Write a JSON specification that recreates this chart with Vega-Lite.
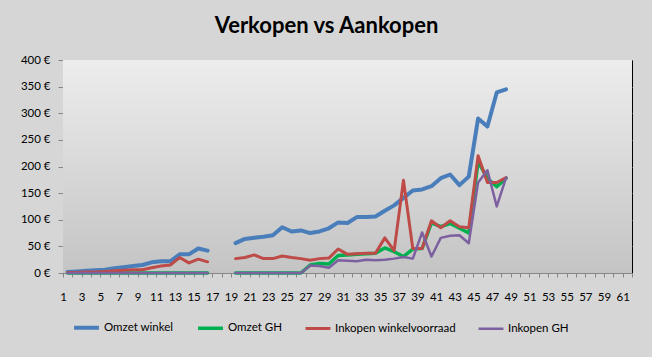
{
  "$schema": "https://vega.github.io/schema/vega-lite/v6.json",
  "width": 569,
  "height": 213,
  "autosize": {"type": "none"},
  "padding": {"left": 63, "top": 60, "right": 20, "bottom": 84},
  "background": "#d6d6d6",
  "title": {"text": "Verkopen vs Aankopen", "font": "Lato", "fontSize": 22, "fontWeight": "bold", "color": "#000000", "anchor": "middle", "dx": -21, "offset": -1, "baseline": "alphabetic"},
  "config": {"view": {"stroke": "#000000", "strokeWidth": 1}, "font": "Lato"},
  "layer": [
    {
      "data": {"values": [{}]},
      "mark": {"type": "rect", "fill": {"gradient": "linear", "x1": 0, "y1": 0, "x2": 0, "y2": 1, "stops": [{"offset": 0, "color": "#ededed"}, {"offset": 1, "color": "#c4c4c4"}]}}
    },
    {
      "data": {"values": [
        {"dag":1,"reeks":"Omzet winkel","bedrag":2},{"dag":1,"reeks":"Omzet GH","bedrag":0},{"dag":1,"reeks":"Inkopen winkelvoorraad","bedrag":1},{"dag":1,"reeks":"Inkopen GH","bedrag":0},
        {"dag":2,"reeks":"Omzet winkel","bedrag":3},{"dag":2,"reeks":"Omzet GH","bedrag":0},{"dag":2,"reeks":"Inkopen winkelvoorraad","bedrag":1},{"dag":2,"reeks":"Inkopen GH","bedrag":0},
        {"dag":3,"reeks":"Omzet winkel","bedrag":4},{"dag":3,"reeks":"Omzet GH","bedrag":0},{"dag":3,"reeks":"Inkopen winkelvoorraad","bedrag":2},{"dag":3,"reeks":"Inkopen GH","bedrag":0},
        {"dag":4,"reeks":"Omzet winkel","bedrag":5},{"dag":4,"reeks":"Omzet GH","bedrag":0},{"dag":4,"reeks":"Inkopen winkelvoorraad","bedrag":2},{"dag":4,"reeks":"Inkopen GH","bedrag":0},
        {"dag":5,"reeks":"Omzet winkel","bedrag":6},{"dag":5,"reeks":"Omzet GH","bedrag":0},{"dag":5,"reeks":"Inkopen winkelvoorraad","bedrag":3},{"dag":5,"reeks":"Inkopen GH","bedrag":0},
        {"dag":6,"reeks":"Omzet winkel","bedrag":9},{"dag":6,"reeks":"Omzet GH","bedrag":0},{"dag":6,"reeks":"Inkopen winkelvoorraad","bedrag":4},{"dag":6,"reeks":"Inkopen GH","bedrag":0},
        {"dag":7,"reeks":"Omzet winkel","bedrag":11},{"dag":7,"reeks":"Omzet GH","bedrag":0},{"dag":7,"reeks":"Inkopen winkelvoorraad","bedrag":5},{"dag":7,"reeks":"Inkopen GH","bedrag":0},
        {"dag":8,"reeks":"Omzet winkel","bedrag":13},{"dag":8,"reeks":"Omzet GH","bedrag":0},{"dag":8,"reeks":"Inkopen winkelvoorraad","bedrag":6},{"dag":8,"reeks":"Inkopen GH","bedrag":0},
        {"dag":9,"reeks":"Omzet winkel","bedrag":15},{"dag":9,"reeks":"Omzet GH","bedrag":0},{"dag":9,"reeks":"Inkopen winkelvoorraad","bedrag":6},{"dag":9,"reeks":"Inkopen GH","bedrag":0},
        {"dag":10,"reeks":"Omzet winkel","bedrag":20},{"dag":10,"reeks":"Omzet GH","bedrag":0},{"dag":10,"reeks":"Inkopen winkelvoorraad","bedrag":10},{"dag":10,"reeks":"Inkopen GH","bedrag":0},
        {"dag":11,"reeks":"Omzet winkel","bedrag":22},{"dag":11,"reeks":"Omzet GH","bedrag":0},{"dag":11,"reeks":"Inkopen winkelvoorraad","bedrag":13},{"dag":11,"reeks":"Inkopen GH","bedrag":0},
        {"dag":12,"reeks":"Omzet winkel","bedrag":22},{"dag":12,"reeks":"Omzet GH","bedrag":0},{"dag":12,"reeks":"Inkopen winkelvoorraad","bedrag":15},{"dag":12,"reeks":"Inkopen GH","bedrag":0},
        {"dag":13,"reeks":"Omzet winkel","bedrag":35},{"dag":13,"reeks":"Omzet GH","bedrag":0},{"dag":13,"reeks":"Inkopen winkelvoorraad","bedrag":29},{"dag":13,"reeks":"Inkopen GH","bedrag":0},
        {"dag":14,"reeks":"Omzet winkel","bedrag":35},{"dag":14,"reeks":"Omzet GH","bedrag":0},{"dag":14,"reeks":"Inkopen winkelvoorraad","bedrag":19},{"dag":14,"reeks":"Inkopen GH","bedrag":0},
        {"dag":15,"reeks":"Omzet winkel","bedrag":46},{"dag":15,"reeks":"Omzet GH","bedrag":0},{"dag":15,"reeks":"Inkopen winkelvoorraad","bedrag":26},{"dag":15,"reeks":"Inkopen GH","bedrag":0},
        {"dag":16,"reeks":"Omzet winkel","bedrag":42},{"dag":16,"reeks":"Omzet GH","bedrag":0},{"dag":16,"reeks":"Inkopen winkelvoorraad","bedrag":21},{"dag":16,"reeks":"Inkopen GH","bedrag":0},
        {"dag":17,"reeks":"Omzet winkel","bedrag":null},{"dag":17,"reeks":"Omzet GH","bedrag":null},{"dag":17,"reeks":"Inkopen winkelvoorraad","bedrag":null},{"dag":17,"reeks":"Inkopen GH","bedrag":null},
        {"dag":18,"reeks":"Omzet winkel","bedrag":null},{"dag":18,"reeks":"Omzet GH","bedrag":null},{"dag":18,"reeks":"Inkopen winkelvoorraad","bedrag":null},{"dag":18,"reeks":"Inkopen GH","bedrag":null},
        {"dag":19,"reeks":"Omzet winkel","bedrag":56},{"dag":19,"reeks":"Omzet GH","bedrag":0},{"dag":19,"reeks":"Inkopen winkelvoorraad","bedrag":27},{"dag":19,"reeks":"Inkopen GH","bedrag":0},
        {"dag":20,"reeks":"Omzet winkel","bedrag":64},{"dag":20,"reeks":"Omzet GH","bedrag":0},{"dag":20,"reeks":"Inkopen winkelvoorraad","bedrag":29},{"dag":20,"reeks":"Inkopen GH","bedrag":0},
        {"dag":21,"reeks":"Omzet winkel","bedrag":66},{"dag":21,"reeks":"Omzet GH","bedrag":0},{"dag":21,"reeks":"Inkopen winkelvoorraad","bedrag":34},{"dag":21,"reeks":"Inkopen GH","bedrag":0},
        {"dag":22,"reeks":"Omzet winkel","bedrag":68},{"dag":22,"reeks":"Omzet GH","bedrag":0},{"dag":22,"reeks":"Inkopen winkelvoorraad","bedrag":27},{"dag":22,"reeks":"Inkopen GH","bedrag":0},
        {"dag":23,"reeks":"Omzet winkel","bedrag":71},{"dag":23,"reeks":"Omzet GH","bedrag":0},{"dag":23,"reeks":"Inkopen winkelvoorraad","bedrag":27},{"dag":23,"reeks":"Inkopen GH","bedrag":0},
        {"dag":24,"reeks":"Omzet winkel","bedrag":86},{"dag":24,"reeks":"Omzet GH","bedrag":0},{"dag":24,"reeks":"Inkopen winkelvoorraad","bedrag":32},{"dag":24,"reeks":"Inkopen GH","bedrag":0},
        {"dag":25,"reeks":"Omzet winkel","bedrag":78},{"dag":25,"reeks":"Omzet GH","bedrag":0},{"dag":25,"reeks":"Inkopen winkelvoorraad","bedrag":29},{"dag":25,"reeks":"Inkopen GH","bedrag":0},
        {"dag":26,"reeks":"Omzet winkel","bedrag":80},{"dag":26,"reeks":"Omzet GH","bedrag":0},{"dag":26,"reeks":"Inkopen winkelvoorraad","bedrag":27},{"dag":26,"reeks":"Inkopen GH","bedrag":0},
        {"dag":27,"reeks":"Omzet winkel","bedrag":75},{"dag":27,"reeks":"Omzet GH","bedrag":15},{"dag":27,"reeks":"Inkopen winkelvoorraad","bedrag":24},{"dag":27,"reeks":"Inkopen GH","bedrag":14},
        {"dag":28,"reeks":"Omzet winkel","bedrag":78},{"dag":28,"reeks":"Omzet GH","bedrag":18},{"dag":28,"reeks":"Inkopen winkelvoorraad","bedrag":27},{"dag":28,"reeks":"Inkopen GH","bedrag":13},
        {"dag":29,"reeks":"Omzet winkel","bedrag":84},{"dag":29,"reeks":"Omzet GH","bedrag":17},{"dag":29,"reeks":"Inkopen winkelvoorraad","bedrag":28},{"dag":29,"reeks":"Inkopen GH","bedrag":10},
        {"dag":30,"reeks":"Omzet winkel","bedrag":95},{"dag":30,"reeks":"Omzet GH","bedrag":33},{"dag":30,"reeks":"Inkopen winkelvoorraad","bedrag":45},{"dag":30,"reeks":"Inkopen GH","bedrag":24},
        {"dag":31,"reeks":"Omzet winkel","bedrag":94},{"dag":31,"reeks":"Omzet GH","bedrag":34},{"dag":31,"reeks":"Inkopen winkelvoorraad","bedrag":35},{"dag":31,"reeks":"Inkopen GH","bedrag":23},
        {"dag":32,"reeks":"Omzet winkel","bedrag":105},{"dag":32,"reeks":"Omzet GH","bedrag":35},{"dag":32,"reeks":"Inkopen winkelvoorraad","bedrag":36},{"dag":32,"reeks":"Inkopen GH","bedrag":22},
        {"dag":33,"reeks":"Omzet winkel","bedrag":105},{"dag":33,"reeks":"Omzet GH","bedrag":36},{"dag":33,"reeks":"Inkopen winkelvoorraad","bedrag":37},{"dag":33,"reeks":"Inkopen GH","bedrag":25},
        {"dag":34,"reeks":"Omzet winkel","bedrag":106},{"dag":34,"reeks":"Omzet GH","bedrag":37},{"dag":34,"reeks":"Inkopen winkelvoorraad","bedrag":37},{"dag":34,"reeks":"Inkopen GH","bedrag":24},
        {"dag":35,"reeks":"Omzet winkel","bedrag":117},{"dag":35,"reeks":"Omzet GH","bedrag":47},{"dag":35,"reeks":"Inkopen winkelvoorraad","bedrag":66},{"dag":35,"reeks":"Inkopen GH","bedrag":25},
        {"dag":36,"reeks":"Omzet winkel","bedrag":127},{"dag":36,"reeks":"Omzet GH","bedrag":40},{"dag":36,"reeks":"Inkopen winkelvoorraad","bedrag":42},{"dag":36,"reeks":"Inkopen GH","bedrag":27},
        {"dag":37,"reeks":"Omzet winkel","bedrag":141},{"dag":37,"reeks":"Omzet GH","bedrag":31},{"dag":37,"reeks":"Inkopen winkelvoorraad","bedrag":174},{"dag":37,"reeks":"Inkopen GH","bedrag":30},
        {"dag":38,"reeks":"Omzet winkel","bedrag":155},{"dag":38,"reeks":"Omzet GH","bedrag":45},{"dag":38,"reeks":"Inkopen winkelvoorraad","bedrag":46},{"dag":38,"reeks":"Inkopen GH","bedrag":27},
        {"dag":39,"reeks":"Omzet winkel","bedrag":157},{"dag":39,"reeks":"Omzet GH","bedrag":46},{"dag":39,"reeks":"Inkopen winkelvoorraad","bedrag":46},{"dag":39,"reeks":"Inkopen GH","bedrag":76},
        {"dag":40,"reeks":"Omzet winkel","bedrag":163},{"dag":40,"reeks":"Omzet GH","bedrag":94},{"dag":40,"reeks":"Inkopen winkelvoorraad","bedrag":98},{"dag":40,"reeks":"Inkopen GH","bedrag":31},
        {"dag":41,"reeks":"Omzet winkel","bedrag":178},{"dag":41,"reeks":"Omzet GH","bedrag":87},{"dag":41,"reeks":"Inkopen winkelvoorraad","bedrag":85},{"dag":41,"reeks":"Inkopen GH","bedrag":66},
        {"dag":42,"reeks":"Omzet winkel","bedrag":185},{"dag":42,"reeks":"Omzet GH","bedrag":93},{"dag":42,"reeks":"Inkopen winkelvoorraad","bedrag":98},{"dag":42,"reeks":"Inkopen GH","bedrag":70},
        {"dag":43,"reeks":"Omzet winkel","bedrag":165},{"dag":43,"reeks":"Omzet GH","bedrag":84},{"dag":43,"reeks":"Inkopen winkelvoorraad","bedrag":87},{"dag":43,"reeks":"Inkopen GH","bedrag":71},
        {"dag":44,"reeks":"Omzet winkel","bedrag":181},{"dag":44,"reeks":"Omzet GH","bedrag":75},{"dag":44,"reeks":"Inkopen winkelvoorraad","bedrag":85},{"dag":44,"reeks":"Inkopen GH","bedrag":56},
        {"dag":45,"reeks":"Omzet winkel","bedrag":290},{"dag":45,"reeks":"Omzet GH","bedrag":209},{"dag":45,"reeks":"Inkopen winkelvoorraad","bedrag":220},{"dag":45,"reeks":"Inkopen GH","bedrag":170},
        {"dag":46,"reeks":"Omzet winkel","bedrag":275},{"dag":46,"reeks":"Omzet GH","bedrag":178},{"dag":46,"reeks":"Inkopen winkelvoorraad","bedrag":170},{"dag":46,"reeks":"Inkopen GH","bedrag":193},
        {"dag":47,"reeks":"Omzet winkel","bedrag":339},{"dag":47,"reeks":"Omzet GH","bedrag":162},{"dag":47,"reeks":"Inkopen winkelvoorraad","bedrag":170},{"dag":47,"reeks":"Inkopen GH","bedrag":125},
        {"dag":48,"reeks":"Omzet winkel","bedrag":345},{"dag":48,"reeks":"Omzet GH","bedrag":178},{"dag":48,"reeks":"Inkopen winkelvoorraad","bedrag":179},{"dag":48,"reeks":"Inkopen GH","bedrag":179}
      ]},
      "encoding": {
        "x": {
          "field": "dag", "type": "quantitative",
          "scale": {"domain": [0.5, 61.5], "nice": false, "zero": false},
          "axis": {
            "values": [0.5,1.5,2.5,3.5,4.5,5.5,6.5,7.5,8.5,9.5,10.5,11.5,12.5,13.5,14.5,15.5,16.5,17.5,18.5,19.5,20.5,21.5,22.5,23.5,24.5,25.5,26.5,27.5,28.5,29.5,30.5,31.5,32.5,33.5,34.5,35.5,36.5,37.5,38.5,39.5,40.5,41.5,42.5,43.5,44.5,45.5,46.5,47.5,48.5,49.5,50.5,51.5,52.5,53.5,54.5,55.5,56.5,57.5,58.5,59.5,60.5,61.5],
            "labelExpr": "((datum.value + 0.5) % 2 == 1) && datum.value < 61 ? format(datum.value + 0.5, 'd') : ''",
            "labelDx": 4.67,
            "labelOverlap": false,
            "labelFlush": false,
            "labelAngle": 0,
            "labelPadding": 14,
            "labelFontSize": 11.5,
            "labelColor": "#000000",
            "tickSize": 4,
            "tickColor": "#868686",
            "domainColor": "#868686",
            "grid": false,
            "title": null
          }
        },
        "y": {
          "field": "bedrag", "type": "quantitative",
          "scale": {"domain": [0, 400], "nice": false},
          "axis": {
            "values": [0, 50, 100, 150, 200, 250, 300, 350, 400],
            "labelExpr": "datum.value + ' €'",
            "labelFontSize": 11.5,
            "labelColor": "#000000",
            "labelPadding": 8,
            "tickSize": 5,
            "tickColor": "#868686",
            "domainColor": "#868686",
            "gridColor": "#868686",
            "grid": true,
            "title": null
          }
        },
        "color": {
          "field": "reeks", "type": "nominal",
          "scale": {"domain": ["Omzet winkel", "Omzet GH", "Inkopen winkelvoorraad", "Inkopen GH"], "range": ["#4a7ebb", "#00b050", "#be4b48", "#7d60a0"]},
          "legend": {
            "title": null, "orient": "none", "legendX": 9, "legendY": 253, "direction": "horizontal",
            "symbolType": "stroke", "symbolSize": 620, "symbolStrokeWidth": 3,
            "labelFontSize": 11.5, "labelColor": "#000000", "labelOffset": 3, "columnPadding": 17, "labelLimit": 300
          }
        },
        "strokeWidth": {
          "field": "reeks", "type": "nominal",
          "scale": {"domain": ["Omzet winkel", "Omzet GH", "Inkopen winkelvoorraad", "Inkopen GH"], "range": [4, 2.5, 2.5, 2.5]},
          "legend": null
        }
      },
      "layer": [
        {"transform": [{"filter": "datum.reeks == 'Omzet winkel'"}], "mark": {"type": "line", "invalid": "break-paths-show-domains", "strokeCap": "round", "strokeJoin": "round", "zindex": 1}},
        {"transform": [{"filter": "datum.reeks == 'Omzet GH'"}], "mark": {"type": "line", "invalid": "break-paths-show-domains", "strokeCap": "round", "strokeJoin": "round", "zindex": 2}},
        {"transform": [{"filter": "datum.reeks == 'Inkopen winkelvoorraad'"}], "mark": {"type": "line", "invalid": "break-paths-show-domains", "strokeCap": "round", "strokeJoin": "round", "zindex": 3}},
        {"transform": [{"filter": "datum.reeks == 'Inkopen GH'"}], "mark": {"type": "line", "invalid": "break-paths-show-domains", "strokeCap": "round", "strokeJoin": "round", "zindex": 4}}
      ]
    }
  ]
}
